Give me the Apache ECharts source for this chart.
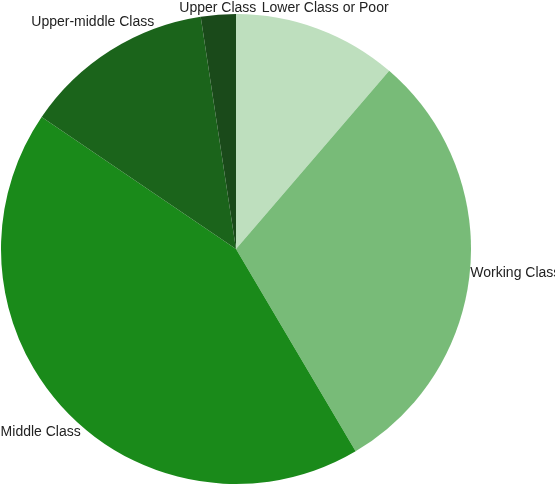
<!DOCTYPE html>
<html>
<head>
<meta charset="utf-8">
<script src="https://cdn.jsdelivr.net/npm/echarts@6/dist/echarts.min.js"></script>
<style>
  html, body { margin: 0; padding: 0; background: #fff; }
  #main { width: 555px; height: 486px; }
</style>
</head>
<body>
<div id="main"></div>
<script>
const categories = ['Lower Class or Poor', 'Working Class', 'Middle Class', 'Upper-middle Class', 'Upper Class'];
const shares = [11.3, 30.2, 43.0, 13.1, 2.4];
const colors = ['#bedfbe', '#78bb78', '#1a8a1a', '#1b641b', '#1a4a1a'];

const chart = echarts.init(document.getElementById('main'));
const cx = 236, cy = 249, R = 235;

// mid angle of each slice, clockwise from the top
const total = shares.reduce((a, b) => a + b, 0);
let acc = 0;
const midAngles = shares.map(v => {
  const m = (acc + v / 2) / total * 2 * Math.PI;
  acc += v;
  return m;
});

const option = {
  animation: false,
  color: colors,
  series: [{
    type: 'pie',
    center: [cx, cy],
    radius: [0, R],
    startAngle: 90,
    clockwise: true,
    avoidLabelOverlap: false,
    label: {
      show: true,
      position: 'outside',
      overflow: 'none',
      color: '#222',
      fontFamily: 'Liberation Sans, Arial, sans-serif',
      fontSize: 14
    },
    labelLine: { show: false, length: 0, length2: 0 },
    emphasis: { disabled: true },
    // label box centred on the slice's mid ray, its nearest corner on the rim
    labelLayout: function (p) {
      const a = midAngles[p.dataIndex];
      const s = Math.sin(a), c = Math.cos(a);
      const r = p.labelRect;
      const b = r.width * Math.abs(s) + r.height * Math.abs(c);
      const k = (r.width * r.width + r.height * r.height) / 4 - R * R;
      const d = (b + Math.sqrt(b * b - 4 * k)) / 2;
      return {
        dx: cx + d * s - (r.x + r.width / 2),
        dy: cy - d * c - (r.y + r.height / 2)
      };
    },
    data: categories.map((c, i) => ({ name: c, value: shares[i] }))
  }]
};
chart.setOption(option);
</script>
</body>
</html>
